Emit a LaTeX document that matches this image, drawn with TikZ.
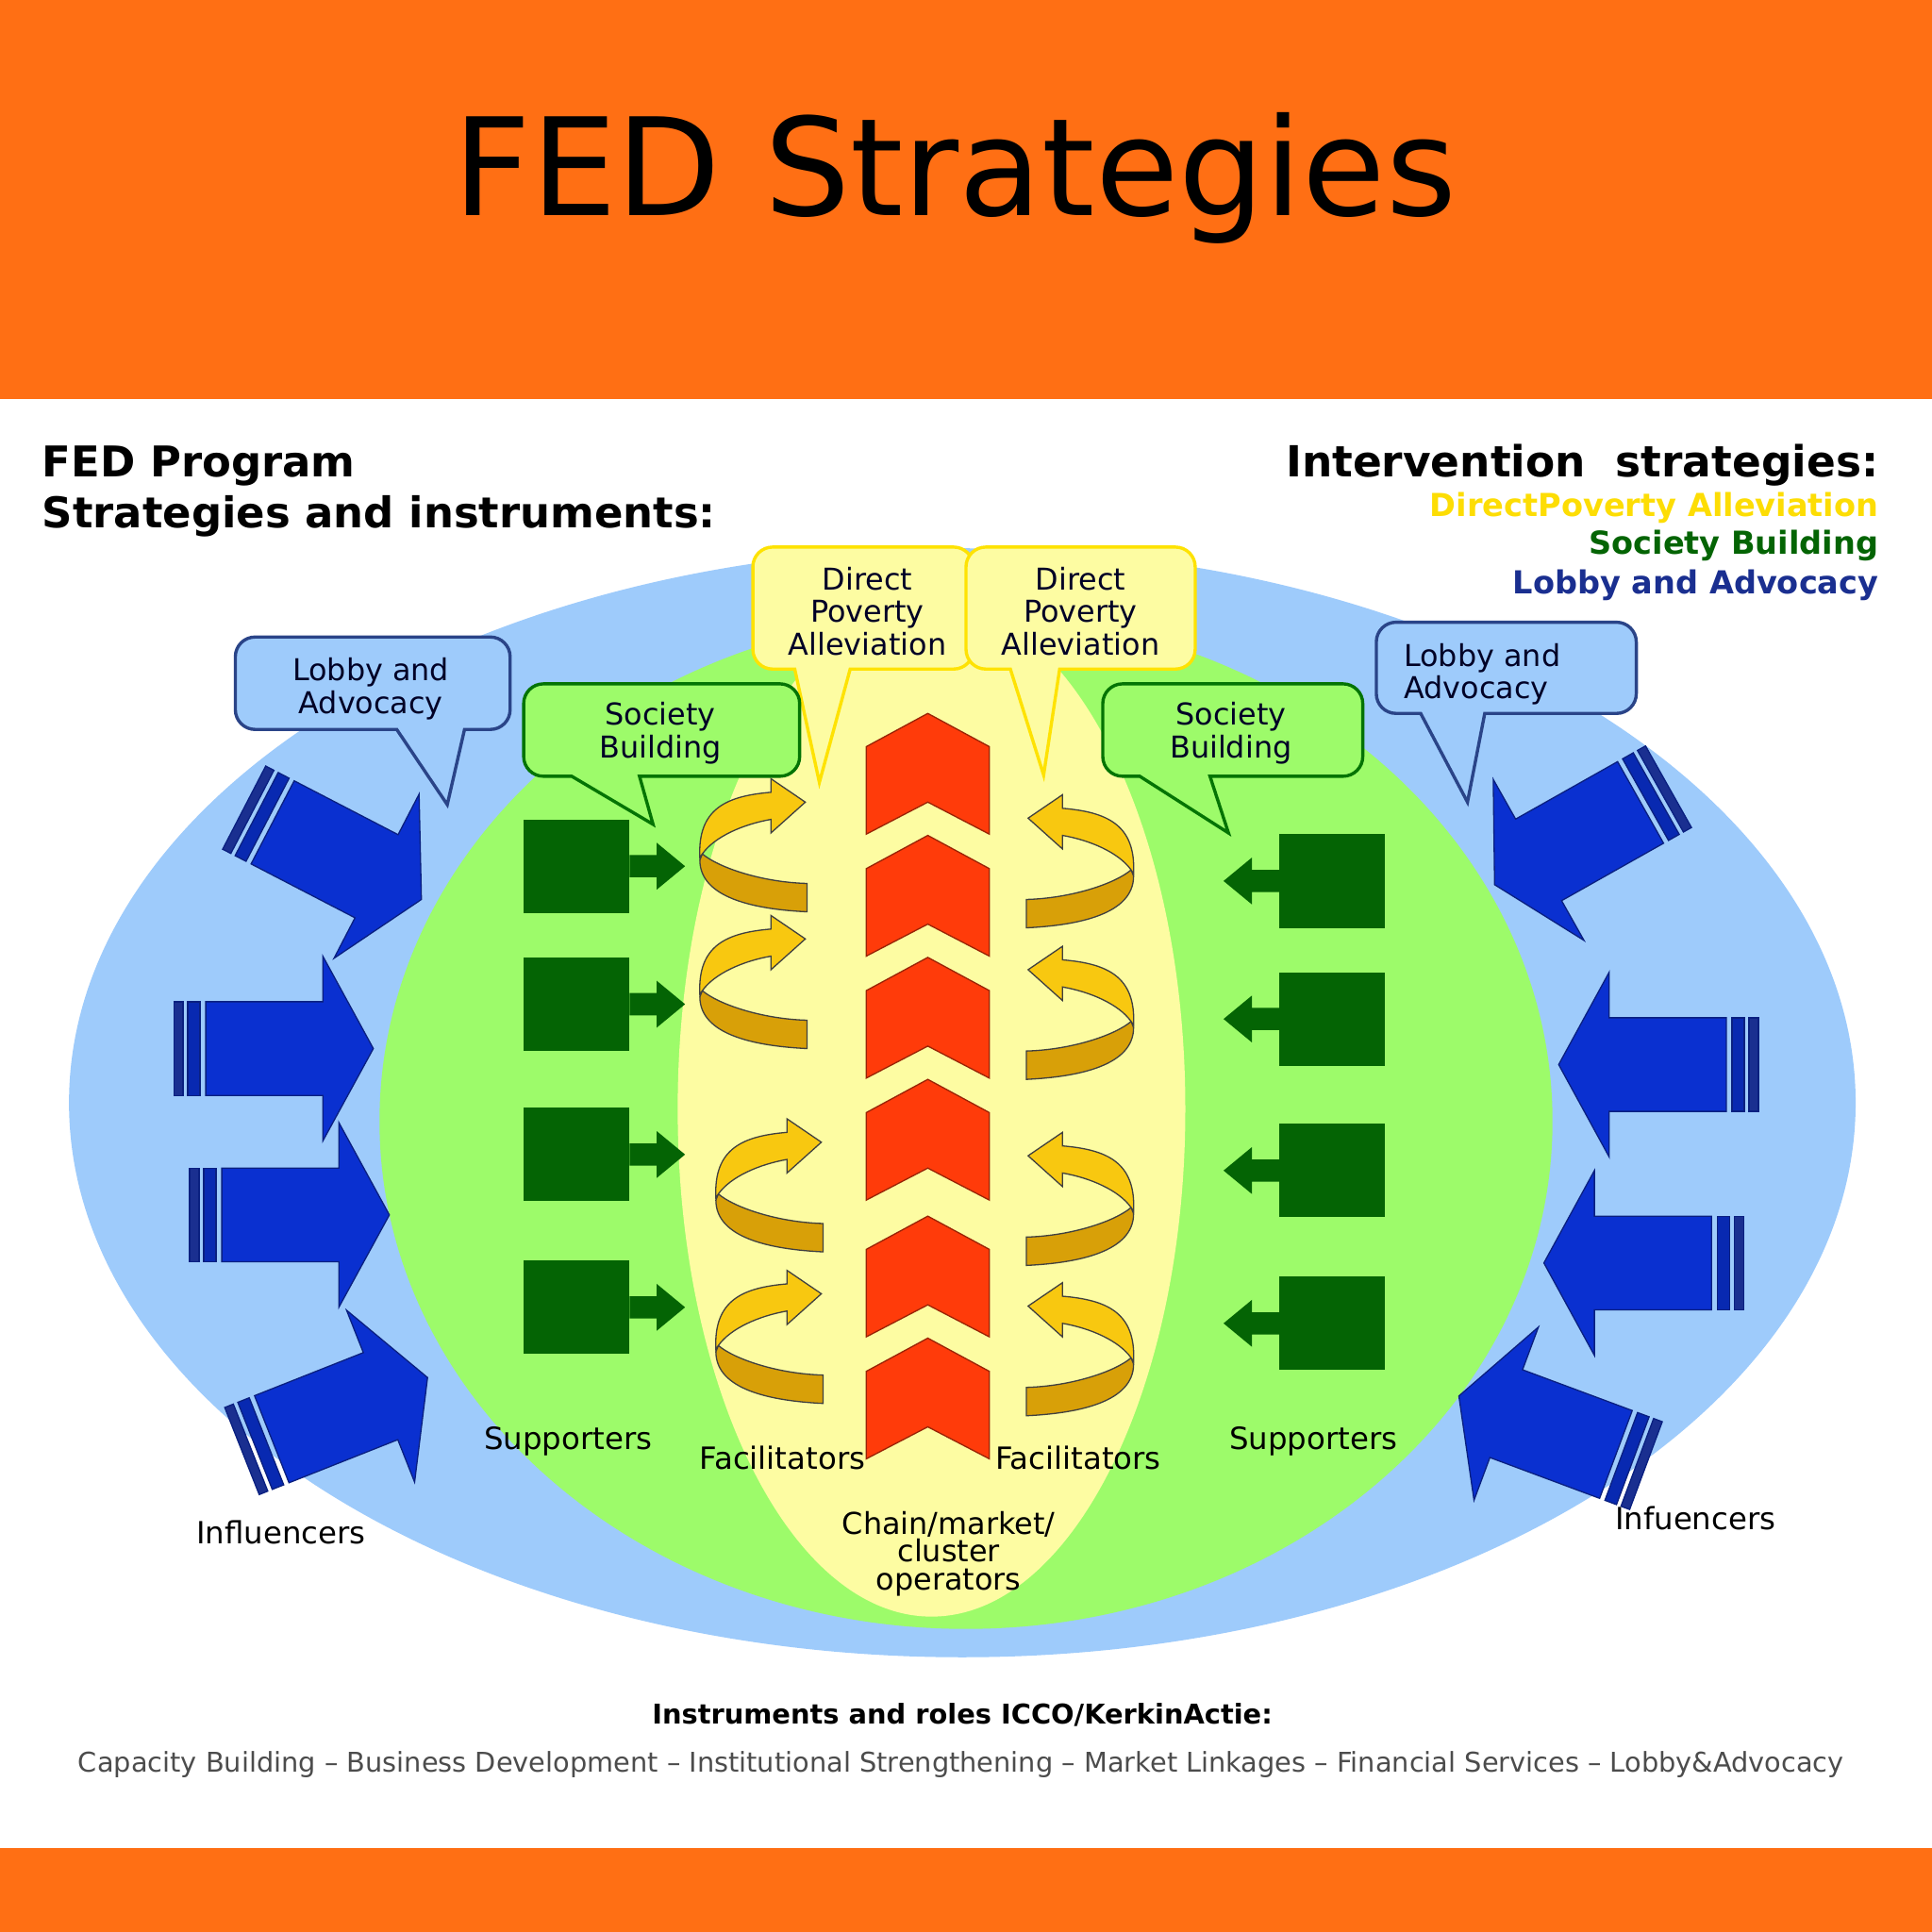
\documentclass[tikz,border=0pt]{standalone}
\usepackage{fontspec}
\setmainfont{DejaVu Sans}
\definecolor{bandOrange}{HTML}{FF6F14}
\definecolor{outerBlue}{HTML}{9ECBFB}
\definecolor{midGreen}{HTML}{9DFB6A}
\definecolor{innerYellow}{HTML}{FDFCA2}
\definecolor{arrowBlue}{HTML}{0A30D0}
\definecolor{stripeBlue}{HTML}{1A2F90}
\definecolor{edgeBlue}{HTML}{0A2080}
\definecolor{bubbleBlue}{HTML}{2A4488}
\definecolor{darkGreen}{HTML}{046404}
\definecolor{chevronRed}{HTML}{FF3B0A}
\definecolor{swirlLight}{HTML}{F8C810}
\definecolor{swirlDark}{HTML}{D8A008}
\newcommand{\bubble}[9]{%
  \draw[#1] ({(#2+#4)/2},#3) [rounded corners=8pt] -- (#4,#3) -- (#4,#5) [sharp corners] -- (#6,#5) -- (#8,#9) -- (#7,#5) [rounded corners=8pt] -- (#2,#5) -- (#2,#3) -- cycle;}
\newcommand{\fsize}[1]{\fontsize{#1}{#1}\selectfont}
\tikzset{
  pics/influencer/.style={code={
    \draw[edgeBlue, fill=arrowBlue, line width=.5pt] (0,0) -- (-41,-75) -- (-41,-38) -- (-136,-38) -- (-136,38) -- (-41,38) -- (-41,75) -- cycle;
    \draw[edgeBlue, fill=arrowBlue!85!black, line width=.5pt] (-150.6,-38) rectangle (-140.6,38);
    \draw[edgeBlue, fill=stripeBlue, line width=.5pt] (-162,-38) rectangle (-154.5,38);
  }},
  pics/supporter/.style={code={
    \fill[darkGreen] (0,-38) rectangle (86,38);
    \fill[darkGreen] (86,-9) -- (108,-9) -- (108,-19) -- (131,0) -- (108,19) -- (108,9) -- (86,9) -- cycle;
  }},
  pics/swirl/.style={code={
    \draw[black!75, fill=swirlDark, line width=.5pt] (2,-1) .. controls (15,10) and (50,22) .. (87,23) -- (87,46) .. controls (45,44) and (0,35) .. (0,4) -- cycle;
    \draw[black!75, fill=swirlLight, line width=.5pt] (0,2) .. controls (-2,-38) and (22,-48) .. (57.7,-51) -- (57.7,-62) -- (85.6,-43) -- (57.7,-18) -- (57.7,-29) .. controls (35,-25) and (12,-15) .. (2,-1) -- cycle;
  }},
  pics/chevron/.style={code={
    \draw[chevronRed!60!black, fill=chevronRed, line width=.5pt] (0,0) -- (50,27) -- (50,98) -- (0,72) -- (-50,98) -- (-50,27) -- cycle;
  }},
  bluebubble/.style={draw=bubbleBlue, fill=outerBlue, line width=1.3pt},
  greenbubble/.style={draw=darkGreen!90!green, fill=midGreen, line width=1.3pt},
  yellowbubble/.style={draw=yellow!85!orange, fill=innerYellow, line width=1.3pt},
  bubbletext/.style={font=\fsize{12.2}, align=center, text=black!85!blue, inner sep=0pt},
  rolelabel/.style={font=\fsize{12.4}, inner sep=0pt, text=black},
  headtext/.style={font=\bfseries\fsize{17.2}, inner sep=0pt, anchor=base west},
  keytext/.style={font=\bfseries\fsize{12.85}, inner sep=0pt, anchor=base east}
}
\begin{document}
\begin{tikzpicture}[x=.5pt, y=-.5pt]
  \useasboundingbox (0,0) rectangle (1568,1568);
  \fill[white] (0,0) rectangle (1568,1568);
  \fill[bandOrange] (0,0) rectangle (1568,324);
  \fill[bandOrange] (0,1500) rectangle (1568,1568);
  \node[font=\fsize{55}, inner sep=0pt, anchor=base] (titleText) at (775,175) {FED Strategies};

  \fill[outerBlue] (781,895) ellipse [x radius=725, y radius=450];
  \fill[midGreen] (784,910) ellipse [x radius=476, y radius=412];
  \fill[innerYellow] (756,900) ellipse [x radius=206, y radius=412];

  \node[headtext] (programText) at (34,387) {FED Program};
  \node[headtext] (strategiesText) at (34,428) {Strategies and instruments:};
  \node[headtext, anchor=base east, font=\bfseries\fsize{17.4}] (interventionText) at (1525,387) {Intervention\ \ strategies:};
  \node[keytext, text=yellow!80!orange] (keyDirect) at (1525,419) {DirectPoverty Alleviation};
  \node[keytext, text=darkGreen] (keySociety) at (1525,450) {Society Building};
  \node[keytext, text=stripeBlue] (keyLobby) at (1525,482) {Lobby and Advocacy};

  \foreach \tipx/\tipy/\turn in {342/730/-27.4, 303/851/0, 316/986/0, 347/1118/21.6,
      1213/718/209.4, 1265/864/180, 1253/1025/180, 1184/1133/159.6}
    \pic[rotate=\turn] at (\tipx,\tipy) {influencer};

  \foreach \sqy in {703,815,937,1061}
    \pic at (425,\sqy) {supporter};
  \foreach \sqy in {715,827,950,1074}
    \pic[xscale=-1] at (1124,\sqy) {supporter};

  \foreach \topy in {579,678,777,876,987,1086}
    \pic at (753,\topy) {chevron};

  \foreach \swx/\swy in {568/694, 568/805, 581/970, 581/1093}
    \pic at (\swx,\swy) {swirl};
  \foreach \swy in {707,830,981,1103}
    \pic[xscale=-1] at (920,\swy) {swirl};

  \bubble{bluebubble}{191}{517}{414}{592}{377}{322}{363}{653}
  \bubble{bluebubble}{1117}{505}{1328}{579}{1205}{1153}{1191}{651}
  \bubble{yellowbubble}{611}{444}{790}{543}{690}{645}{665}{635}
  \bubble{yellowbubble}{784}{444}{970}{543}{860}{820}{847}{629}
  \bubble{greenbubble}{425}{555}{649}{630}{519}{464}{530}{669}
  \bubble{greenbubble}{895}{555}{1106}{630}{982}{925}{997}{676}

  \node[bubbletext] (lobbyLeft) at (301,559) {Lobby and\\[1pt]Advocacy};
  \node[bubbletext, align=left] (lobbyRight) at (1203,547) {Lobby and\\[1pt]Advocacy};
  \node[bubbletext] (directLeft) at (704,496) {Direct\\[1pt]Poverty\\[1pt]Alleviation};
  \node[bubbletext] (directRight) at (877,496) {Direct\\[1pt]Poverty\\[1pt]Alleviation};
  \node[bubbletext] (societyLeft) at (536,595) {Society\\[1pt]Building};
  \node[bubbletext] (societyRight) at (999,595) {Society\\[1pt]Building};

  \node[rolelabel] (supportersLeft) at (461,1170) {Supporters};
  \node[rolelabel] (supportersRight) at (1066,1170) {Supporters};
  \node[rolelabel] (facilitatorsLeft) at (635,1183) {Facilitators};
  \node[rolelabel] (facilitatorsRight) at (875,1183) {Facilitators};
  \node[rolelabel] (influencersLeft) at (228,1244) {Influencers};
  \node[rolelabel] (influencersRight) at (1376,1232) {Infuencers};
  \node[rolelabel, align=center, font=\fontsize{12.2}{11.4}\selectfont] (operatorsText) at (770,1261) {Chain/market/\\cluster\\operators};

  \node[font=\bfseries\fsize{11.05}, inner sep=0pt] (rolesTitle) at (781,1392) {Instruments and roles ICCO/KerkinActie:};
  \node[font=\fsize{11.03}, inner sep=0pt, text=black!70] (rolesList) at (780,1432) {Capacity Building -- Business Development -- Institutional Strengthening -- Market Linkages -- Financial Services -- Lobby\&Advocacy};
\end{tikzpicture}
\end{document}
